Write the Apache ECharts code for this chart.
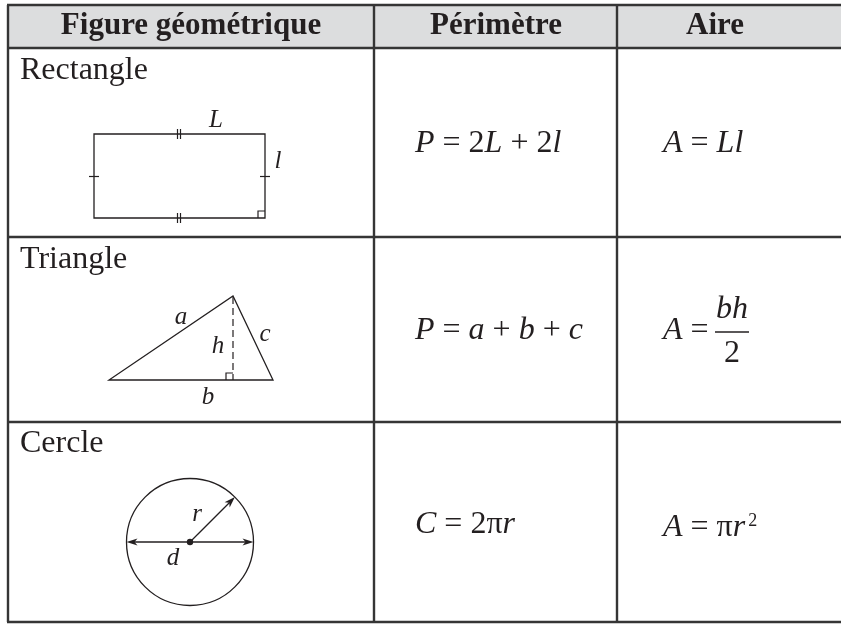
<!DOCTYPE html>
<html>
<head>
<meta charset="utf-8">
<title>Figures géométriques</title>
<script src="https://cdn.jsdelivr.net/npm/echarts@6/dist/echarts.min.js"></script>
<style>
  html, body { margin: 0; padding: 0; background: #fff; }
  #main { width: 841px; height: 624px; }
</style>
</head>
<body>
<div id="main"></div>
<script>
// contenu du tableau
const headers = ['Figure géométrique', 'Périmètre', 'Aire']
const figureNames = ['Rectangle', 'Triangle', 'Cercle']
const perimeterFormulas = ['{i|P} = 2{i|L} + 2{i|l}', '{i|P} = {i|a} + {i|b} + {i|c}', '{i|C} = 2π{i|r}']
const areaFormulas = ['{i|A} = {i|Ll}', '{i|A} =', '{i|A} = π{i|r}{sup|2}']
const fractionParts = ['{i|bh}', '2']
const rectLabels = ['L', 'l']
const triLabels = ['a', 'b', 'c', 'h']
const circleLabels = ['r', 'd']

const serif = '"Liberation Serif", "Times New Roman", serif'
const ink = '#231f20'
const rule = '#353535'

// grille du tableau
const colX = [8, 374, 617, 841]
const rowY = [5, 48, 237, 422, 622]

const chart = echarts.init(document.getElementById('main'))

const rich = {
  i: { fontFamily: serif, fontSize: 32, fontStyle: 'italic', fill: ink },
  sup: { fontFamily: serif, fontSize: 18, fill: ink, verticalAlign: 'top', padding: [0, 0, 0, 3] }
}

function text(str, x, y, opt) {
  opt = opt || {}
  const size = opt.size || 32
  return {
    type: 'text',
    z: 10,
    style: {
      text: str,
      x: x,
      y: y,
      font: (opt.italic ? 'italic ' : '') + (opt.bold ? 'bold ' : '') + size + 'px ' + serif,
      fill: ink,
      textAlign: opt.align || 'left',
      verticalAlign: 'middle',
      rich: opt.rich ? rich : undefined
    }
  }
}

function line(x1, y1, x2, y2, w, color, dash) {
  return {
    type: 'line',
    z: 5,
    shape: { x1: x1, y1: y1, x2: x2, y2: y2 },
    style: { stroke: color || ink, lineWidth: w || 1.3, lineDash: dash || null }
  }
}

function polyline(pts) {
  return { type: 'polyline', z: 5, shape: { points: pts }, style: { stroke: ink, lineWidth: 1.2, fill: null } }
}

// pointe de flèche (tip, angle en radians)
function arrowHead(tip, ang) {
  const L = 11, W = 3.6, notch = 3
  const dx = Math.cos(ang), dy = Math.sin(ang)
  const nx = -dy, ny = dx
  return {
    type: 'polygon',
    z: 6,
    shape: {
      points: [
        tip,
        [tip[0] - L * dx + W * nx, tip[1] - L * dy + W * ny],
        [tip[0] - (L - notch) * dx, tip[1] - (L - notch) * dy],
        [tip[0] - L * dx - W * nx, tip[1] - L * dy - W * ny]
      ]
    },
    style: { fill: ink }
  }
}

const els = []

// en-tête gris
els.push({
  type: 'rect', z: 1,
  shape: { x: colX[0], y: rowY[0], width: colX[3] - colX[0], height: rowY[1] - rowY[0] },
  style: { fill: '#dcddde' }
})

// traits du tableau
rowY.forEach(function (y) { els.push(line(colX[0] - 1, y, colX[3], y, 2.4, rule)) })
colX.slice(0, 3).forEach(function (x) { els.push(line(x, rowY[0], x, rowY[4], 2.4, rule)) })

// en-têtes
const headCenters = [191, 496, 715]
headers.forEach(function (h, i) {
  els.push(text(h, headCenters[i], 26, { bold: true, size: 31, align: 'center' }))
})

// noms des figures
const nameY = [71, 260, 444]
figureNames.forEach(function (n, i) { els.push(text(n, 20, nameY[i], { size: 32 })) })

// formules
const formulaY = [144, 331, 525]
perimeterFormulas.forEach(function (f, i) { els.push(text(f, 415, formulaY[i], { rich: true })) })
areaFormulas.forEach(function (f, i) {
  els.push(text(f, 663, i === 2 ? 528 : formulaY[i], { rich: true }))
})
// fraction bh/2
els.push(text(fractionParts[0], 732, 310, { rich: true, align: 'center' }))
els.push(line(715, 332, 749, 332, 1.3))
els.push(text(fractionParts[1], 732, 354, { align: 'center' }))

// rectangle
els.push({ type: 'rect', z: 5, shape: { x: 94, y: 134, width: 171, height: 84 }, style: { stroke: ink, lineWidth: 1.3, fill: null } })
els.push(line(177.5, 129, 177.5, 139, 1.2), line(180.5, 129, 180.5, 139, 1.2))
els.push(line(177.5, 213, 177.5, 223, 1.2), line(180.5, 213, 180.5, 223, 1.2))
els.push(line(89, 176.5, 99, 176.5, 1.2), line(260, 176.5, 270, 176.5, 1.2))
els.push(polyline([[258, 218], [258, 211], [265, 211]]))
els.push(text(rectLabels[0], 216, 120, { italic: true, size: 25, align: 'center' }))
els.push(text(rectLabels[1], 278, 161, { italic: true, size: 25, align: 'center' }))

// triangle
els.push({
  type: 'polygon', z: 5,
  shape: { points: [[109, 380], [273, 380], [233, 296]] },
  style: { stroke: ink, lineWidth: 1.3, fill: null, lineJoin: 'miter' }
})
els.push(line(233, 297, 233, 380, 1.2, ink, [7, 4]))
els.push(polyline([[226, 380], [226, 373], [233, 373]]))
els.push(text(triLabels[0], 181, 317, { italic: true, size: 25, align: 'center' }))
els.push(text(triLabels[1], 208, 397, { italic: true, size: 25, align: 'center' }))
els.push(text(triLabels[2], 265, 334, { italic: true, size: 25, align: 'center' }))
els.push(text(triLabels[3], 218, 346, { italic: true, size: 25, align: 'center' }))

// cercle
const cx = 190, cy = 542, R = 63.5
els.push({ type: 'circle', z: 5, shape: { cx: cx, cy: cy, r: R }, style: { stroke: ink, lineWidth: 1.3, fill: null } })
els.push(line(cx - R + 4, cy, cx + R - 4, cy, 1.3))
els.push(arrowHead([cx - R, cy], Math.PI), arrowHead([cx + R, cy], 0))
const ra = -Math.PI / 4
const rTip = [cx + R * Math.cos(ra), cy + R * Math.sin(ra)]
els.push(line(cx, cy, rTip[0] - 4 * Math.cos(ra), rTip[1] - 4 * Math.sin(ra), 1.3))
els.push(arrowHead(rTip, ra))
els.push({ type: 'circle', z: 7, shape: { cx: cx, cy: cy, r: 3.2 }, style: { fill: ink } })
els.push(text(circleLabels[0], 197, 514, { italic: true, size: 25, align: 'center' }))
els.push(text(circleLabels[1], 173, 558, { italic: true, size: 25, align: 'center' }))

chart.setOption({
  backgroundColor: '#ffffff',
  animation: false,
  graphic: { elements: els }
})
</script>
</body>
</html>
